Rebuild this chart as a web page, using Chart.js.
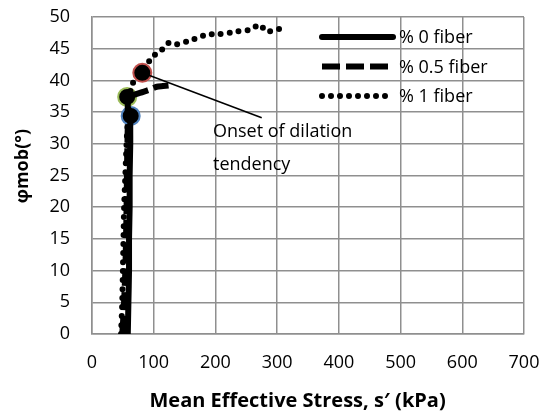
<!DOCTYPE html>
<html lang="en">
<head>
    <meta charset="UTF-8">
    <title>Mobilised friction angle vs mean effective stress</title>
    <style>
        * { margin: 0; padding: 0; box-sizing: border-box; }
        body { background: #fff; width: 542px; height: 418px; overflow: hidden; }
        canvas { display: block; }
    </style>
    <script src="https://cdn.jsdelivr.net/npm/chart.js"></script>
</head>
<body>
    <canvas id="stressChart" width="542" height="418"></canvas>

    <script>
        // Values (s' in kPa, phi mob in degrees)
        const fiber0S = [58, 59, 60, 60, 61, 61, 62, 62, 63];
        const fiber0Phi = [0, 5, 10, 15, 20, 25, 30, 33, 34.5];

        const fiber05S = [49, 51, 54, 56, 57, 58, 59, 70, 83, 95, 105, 115, 124];
        const fiber05Phi = [0, 3, 10, 20, 28, 33, 37.4, 37.8, 38.2, 38.6, 39, 39.1, 39.2];

        const fiber1S = [47, 49, 50, 51, 52, 54, 57, 64, 82, 97, 110, 124, 137, 159, 186, 207, 234, 256, 272, 283, 307];
        const fiber1Phi = [0, 5, 10, 15, 20, 25, 32, 39.2, 41.2, 43.7, 44.5, 45.9, 45.7, 46.3, 47.2, 47.3, 47.7, 48, 48.8, 47.7, 48.2];

        // onset of dilation markers: 0 %, 0.5 %, 1 % fiber
        const onsetS = [62.7, 57, 81.5];
        const onsetPhi = [34.4, 37.4, 41.2];
        const onsetColors = ['#4f81bd', '#9bbb59', '#c0504d'];

        const seriesLabels = ['% 0 fiber', '% 0.5 fiber', '% 1 fiber'];
        const noteLines = ['Onset of dilation', 'tendency'];
        const noteText = { s: 196, phi: 31.9 };
        const noteLineEnd = { s: 275, phi: 34.1 };

        const FONT = "'Open Sans', sans-serif";

        function toPoints(xs, ys) {
            return xs.map((x, i) => ({ x: x, y: ys[i] }));
        }

        // legend drawn over the plot, grid shows through like in the original
        const legendPlugin = {
            id: 'insideLegend',
            afterDraw(chart) {
                const ctx = chart.ctx;
                const left = 322, lineLen = 71, rowGap = 29.5;
                ctx.save();
                ctx.font = '18px ' + FONT;
                ctx.fillStyle = '#000';
                ctx.textBaseline = 'middle';
                for (let i = 0; i < 3; i++) {
                    const ds = chart.data.datasets[i];
                    const y = 37 + i * rowGap;
                    ctx.beginPath();
                    ctx.lineWidth = ds.borderWidth;
                    ctx.strokeStyle = '#000';
                    ctx.lineCap = ds.borderCapStyle || 'butt';
                    ctx.setLineDash(ds.borderDash || []);
                    ctx.moveTo(left, y);
                    ctx.lineTo(left + lineLen, y);
                    ctx.stroke();
                    ctx.setLineDash([]);
                    ctx.fillText(ds.label, left + lineLen + 6, y + 1);
                }
                ctx.restore();
            }
        };

        // callout for the onset markers
        const notePlugin = {
            id: 'onsetNote',
            afterDatasetsDraw(chart) {
                const ctx = chart.ctx;
                const xs = chart.scales.x, ys = chart.scales.y;
                ctx.save();
                ctx.beginPath();
                ctx.strokeStyle = '#000';
                ctx.lineWidth = 1.5;
                ctx.moveTo(xs.getPixelForValue(onsetS[2]), ys.getPixelForValue(onsetPhi[2]));
                ctx.lineTo(xs.getPixelForValue(noteLineEnd.s), ys.getPixelForValue(noteLineEnd.phi));
                ctx.stroke();
                ctx.font = '18px ' + FONT;
                ctx.fillStyle = '#000';
                ctx.textBaseline = 'middle';
                const tx = xs.getPixelForValue(noteText.s);
                const ty = ys.getPixelForValue(noteText.phi);
                noteLines.forEach((t, i) => ctx.fillText(t, tx, ty + i * 33));
                ctx.restore();
            }
        };

        const ctx = document.getElementById('stressChart').getContext('2d');
        const gridColor = '#8f8f8f';

        new Chart(ctx, {
            type: 'scatter',
            data: {
                datasets: [
                    {
                        label: seriesLabels[0],
                        data: toPoints(fiber0S, fiber0Phi),
                        showLine: true,
                        borderColor: '#000',
                        borderWidth: 6,
                        borderCapStyle: 'round',
                        pointRadius: 0,
                        tension: 0.2
                    },
                    {
                        label: seriesLabels[1],
                        data: toPoints(fiber05S, fiber05Phi),
                        showLine: true,
                        borderColor: '#000',
                        borderWidth: 6,
                        borderDash: [18, 6],
                        pointRadius: 0,
                        tension: 0.2
                    },
                    {
                        label: seriesLabels[2],
                        data: toPoints(fiber1S, fiber1Phi),
                        showLine: true,
                        borderColor: '#000',
                        borderWidth: 6,
                        borderDash: [0, 9],
                        borderCapStyle: 'round',
                        pointRadius: 0,
                        tension: 0.2
                    },
                    {
                        label: 'onset',
                        data: toPoints(onsetS, onsetPhi),
                        showLine: false,
                        pointRadius: 9,
                        pointBorderWidth: 2,
                        pointBackgroundColor: '#000',
                        pointBorderColor: onsetColors
                    }
                ]
            },
            options: {
                responsive: false,
                animation: false,
                layout: { padding: { left: 0, right: 18, top: 17, bottom: 0 } },
                plugins: {
                    legend: { display: false },
                    tooltip: { enabled: false }
                },
                scales: {
                    x: {
                        type: 'linear',
                        min: 0,
                        max: 700,
                        ticks: { stepSize: 100, maxRotation: 0, autoSkip: false, color: '#000', padding: 18, font: { family: FONT, size: 18 } },
                        grid: { color: gridColor, lineWidth: 1.5, drawTicks: false },
                        border: { color: gridColor, width: 1.5 },
                        title: {
                            display: true,
                            text: 'Mean Effective Stress, s\u2032 (kPa)    ',
                            color: '#000',
                            font: { family: FONT, size: 20, weight: 'bold' },
                            padding: { top: 0, bottom: 5 }
                        },
                        afterFit(scale) {
                            scale.height = 84;
                            scale.paddingLeft = 0;
                            scale.paddingRight = 0;
                        }
                    },
                    y: {
                        min: 0,
                        max: 50,
                        ticks: { stepSize: 5, autoSkip: false, color: '#000', padding: 22, font: { family: FONT, size: 18 } },
                        grid: { color: gridColor, lineWidth: 1.5, drawTicks: false },
                        border: { color: gridColor, width: 1.5 },
                        title: {
                            display: true,
                            text: '    \u03c6mob(\u00b0)',
                            color: '#000',
                            font: { family: FONT, size: 18, weight: 'bold' },
                            padding: { top: 12, bottom: 0 }
                        },
                        afterFit(scale) {
                            scale.width = 92;
                            scale.paddingTop = 0;
                            scale.paddingBottom = 0;
                        }
                    }
                }
            },
            plugins: [notePlugin, legendPlugin]
        });
    </script>
</body>
</html>
